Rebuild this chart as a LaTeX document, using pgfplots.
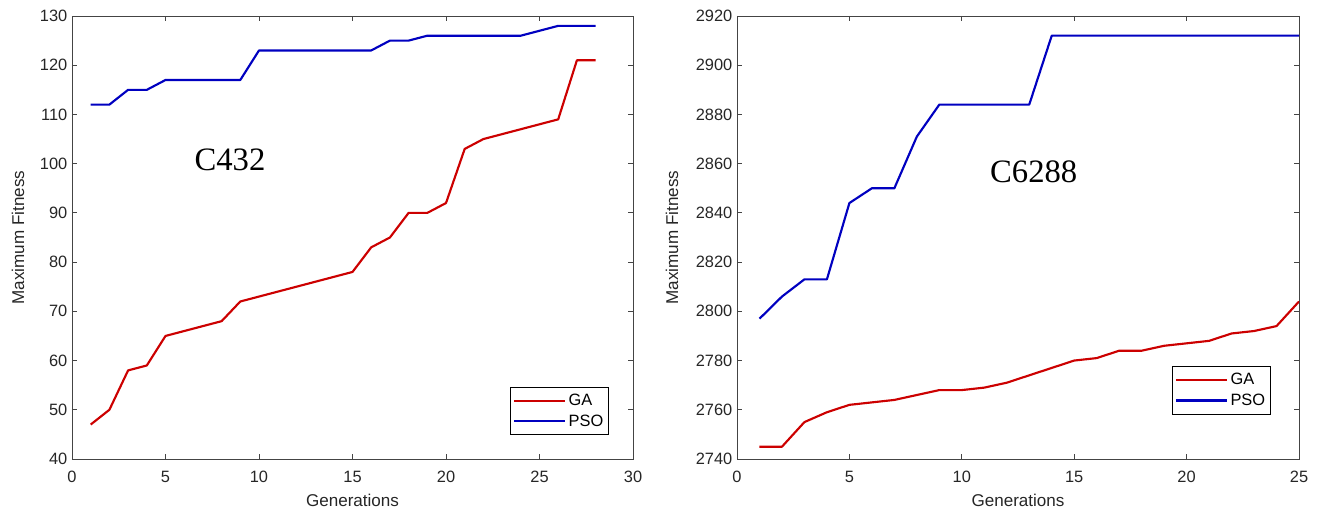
\documentclass[border=0pt]{standalone}
\usepackage{fontspec}
\setmainfont{Liberation Sans}
\newfontfamily\serifann{Liberation Serif}
\usepackage{pgfplots}
\pgfplotsset{compat=1.18}
\definecolor{garead}{HTML}{CC0000}
\definecolor{psoblue}{HTML}{0000C0}
\definecolor{axgray}{HTML}{444444}

% generation, fitness
\pgfplotstableread{
g  ga   pso
1  47   112
2  50   112
3  58   115
4  59   115
5  65   117
6  66   117
7  67   117
8  68   117
9  72   117
10 73   123
11 74   123
12 75   123
13 76   123
14 77   123
15 78   123
16 83   123
17 85   125
18 90   125
19 90   126
20 92   126
21 103  126
22 105  126
23 106  126
24 107  126
25 108  127
26 109  128
27 121  128
28 121  128
}\tabsmall

\pgfplotstableread{
g  ga    pso
1  2745  2797
2  2745  2806
3  2755  2813
4  2759  2813
5  2762  2844
6  2763  2850
7  2764  2850
8  2766  2871
9  2768  2884
10 2768  2884
11 2769  2884
12 2771  2884
13 2774  2884
14 2777  2912
15 2780  2912
16 2781  2912
17 2784  2912
18 2784  2912
19 2786  2912
20 2787  2912
21 2788  2912
22 2791  2912
23 2792  2912
24 2794  2912
25 2804  2912
}\tablarge

\pgfplotsset{
  fitstyle/.style={
    scale only axis,
    height=332.25pt,
    axis line style={axgray, line width=0.7pt},
    tick align=inside,
    major tick length=4pt,
    tick style={axgray, line width=0.7pt},
    tick label style={font=\fontsize{12.3}{14}\selectfont, color=black!85},
    xticklabel style={yshift=-5.5pt},
    /pgf/number format/assume math mode=true,
    /pgf/number format/1000 sep={},
    xtick distance=5,
    label style={font=\fontsize{12.8}{15}\selectfont, color=black!85},
    xlabel={Generations},
    ylabel={Maximum Fitness},
    xlabel style={at={(axis description cs:0.5,-0.0926)}, anchor=center},
    legend cell align=left,
    legend style={draw=black, line width=0.6pt, font=\fontsize{12.3}{14}\selectfont,
      inner xsep=2pt, inner ysep=3pt, row sep=1.5pt, anchor=north west},
    legend image code/.code={\draw[#1] (0pt,0pt) -- (38pt,0pt);},
    every axis plot/.append style={line width=1.6pt, line join=round},
  }
}

\begin{document}
\begin{tikzpicture}
\path[use as bounding box] (0,0) rectangle (990pt,384.75pt);

% left panel: C432
\begin{axis}[fitstyle,
    at={(54pt,40.5pt)}, anchor=south west,
    width=420.75pt,
    xmin=0, xmax=30, ymin=40, ymax=130,
    ytick distance=10,
    ylabel style={at={(axis description cs:-0.0963,0.5)}, anchor=center},
    legend style={at={(0.781,0.163)}},
  ]
  \addplot[garead] table[x=g, y=ga] {\tabsmall};
  \addplot[psoblue] table[x=g, y=pso] {\tabsmall};
  \legend{GA, PSO}
  \node[font=\serifann\fontsize{24.5}{28}\selectfont] at (axis cs:8.45,100.7) {C432};
\end{axis}

% right panel: C6288
\begin{axis}[fitstyle,
    at={(552.75pt,40.5pt)}, anchor=south west,
    width=421.5pt,
    xmin=0, xmax=25, ymin=2740, ymax=2920,
    ytick distance=20,
    ylabel style={at={(axis description cs:-0.1157,0.5)}, anchor=center},
    legend style={at={(0.774,0.21)}},
  ]
  \addplot[garead] table[x=g, y=ga] {\tablarge};
  \addplot[psoblue] table[x=g, y=pso] {\tablarge};
  \legend{GA, PSO}
  \node[font=\serifann\fontsize{24.5}{28}\selectfont] at (axis cs:13.2,2856.6) {C6288};
\end{axis}
\end{tikzpicture}
\end{document}
